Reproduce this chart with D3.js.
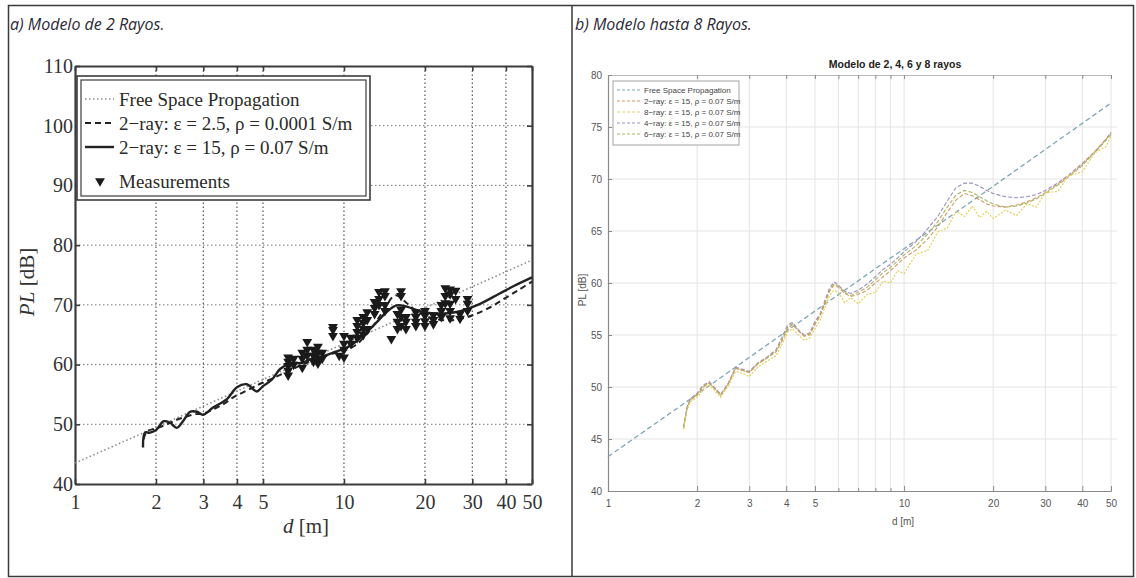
<!DOCTYPE html>
<html>
<head>
<meta charset="utf-8">
<script src="https://cdn.jsdelivr.net/npm/d3@7"></script>
<style>
  body { margin: 0; background: #fff; }
  .serif { font-family: "Liberation Serif", "DejaVu Serif", serif; }
  .narrow { font-family: "Liberation Sans Narrow", "Liberation Sans", Arial, sans-serif; }
  .cap { font-family: "Open Sans", "Noto Sans", sans-serif; font-style: italic; }
</style>
</head>
<body>
<svg id="chart" width="1136" height="578"></svg>
<script>
// ---- data ----
// panel a) 2-ray model vs measurements
const freeSpaceD = [1, 2, 5, 10, 20, 50]
const freeSpaceL = [43.5, 49.5, 57.5, 63.5, 69.5, 77.5]

const ray15D = [1.79, 1.82, 1.9, 2.01, 2.13, 2.25, 2.39, 2.52, 2.68, 2.84, 2.99, 3.26, 3.67, 4.0, 4.35, 4.74, 5.0, 5.4, 5.8, 6.3, 7.0, 7.6, 8.1, 9.1, 10.2, 11.2, 12.2, 13.3, 14.4, 15.7, 17.1, 19.6, 22.7, 26.2, 31.1, 37.9, 43, 50]
const ray15PL = [46.1, 48.6, 48.6, 49.1, 50.5, 50.3, 49.4, 50.5, 52.1, 52.1, 51.6, 52.8, 54.2, 56.2, 56.7, 55.5, 56.4, 57.5, 59.3, 60.2, 60.3, 61.0, 61.2, 62.0, 62.8, 64.0, 65.5, 67.2, 68.8, 69.9, 69.7, 68.8, 68.5, 68.8, 69.9, 71.9, 73.2, 74.6]

const ray25D = [1.8, 1.85, 2.0, 2.2, 2.4, 2.6, 2.8, 3.0, 3.3, 3.6, 3.9, 4.2, 4.6, 5.0, 5.5, 6.0, 6.5, 7.0, 7.5, 8, 9, 10, 11, 12, 13, 14, 15.5, 17, 18.5, 20, 22, 25, 28, 31, 35, 40, 45, 50]
const ray25PL = [47.5, 48.8, 49.3, 50.0, 50.8, 51.3, 51.7, 51.8, 52.6, 53.5, 54.6, 55.3, 56.2, 57.0, 57.8, 58.6, 59.3, 60.0, 60.5, 61.0, 61.8, 62.3, 63.2, 64.8, 66.8, 69.0, 71.6, 70.4, 69.0, 68.2, 67.6, 67.4, 67.8, 68.5, 69.6, 71.2, 72.6, 73.9]

const measD = [6.2, 6.2, 6.2, 6.2, 6.2, 6.5, 6.5, 7.0, 7.0, 7.0, 7.3, 7.3, 7.3, 7.7, 7.7, 7.7, 8.0, 8.0, 8.0, 8.0, 8.3, 8.3, 9.1, 9.1, 9.1, 9.6, 10.0, 10.0, 10.0, 10.0, 10.6, 10.6, 11.2, 11.2, 11.2, 11.2, 11.8, 11.8, 11.8, 11.8, 12.2, 12.2, 12.2, 13.0, 13.0, 13.0, 13.5, 13.5, 13.5, 14.2, 14.2, 14.2, 14.2, 15.0, 15.8, 15.8, 15.8, 16.3, 16.3, 16.3, 16.3, 16.3, 17.0, 17.0, 17.0, 18.5, 18.5, 18.5, 18.5, 20.0, 20.0, 20.0, 20.0, 21.5, 21.5, 21.5, 23.0, 23.0, 23.0, 23.8, 23.8, 23.8, 24.8, 24.8, 24.8, 24.8, 24.8, 26.0, 26.0, 27.0, 27.0, 28.8, 28.8, 28.8]
const measPL = [58.2, 59.0, 59.8, 60.5, 61.2, 60.0, 61.0, 59.5, 61.0, 62.0, 61.5, 62.5, 63.8, 60.5, 61.5, 62.5, 60.2, 61.0, 62.0, 63.0, 61.0, 62.0, 64.8, 65.8, 66.3, 61.5, 61.2, 62.5, 63.5, 64.8, 63.5, 64.5, 64.5, 65.5, 66.5, 67.5, 65.0, 66.0, 67.0, 68.0, 66.0, 67.5, 68.8, 68.5, 69.5, 70.5, 70.0, 71.0, 72.2, 69.0, 70.0, 71.5, 72.3, 64.3, 66.0, 67.2, 68.5, 66.5, 68.0, 69.2, 71.5, 72.3, 66.0, 67.2, 68.0, 66.5, 67.2, 68.0, 68.8, 66.5, 67.3, 68.2, 69.0, 66.8, 67.5, 68.3, 68.0, 69.0, 70.0, 70.3, 71.5, 72.8, 67.8, 69.0, 70.2, 71.8, 72.6, 71.0, 72.4, 67.7, 68.5, 69.0, 70.2, 71.0]

const xTicksL = [1, 2, 3, 4, 5, 10, 20, 30, 40, 50]
const yTicksL = [40, 50, 60, 70, 80, 90, 100, 110]
const legendL = ["Free Space Propagation", "2\u2212ray:  \u03b5 = 2.5,  \u03c1 = 0.0001 S/m", "2\u2212ray:  \u03b5 = 15,  \u03c1 = 0.07 S/m", "Measurements"]

// panel b) models up to 8 rays
const freeSpaceR = [43.3, 49.3, 57.3, 63.3, 69.3, 77.3]
const raysD = [1.8, 1.85, 1.9, 2.0, 2.1, 2.2, 2.3, 2.4, 2.55, 2.7, 2.85, 3.0, 3.2, 3.45, 3.7, 3.9, 4.05, 4.2, 4.4, 4.6, 4.8, 5.0, 5.2, 5.4, 5.6, 5.8, 6.0, 6.3, 6.6, 7.0, 7.5, 8.0, 8.5, 9.0, 9.5, 10, 11, 12, 13, 14, 15, 16, 17, 18, 19, 20, 22, 24, 26, 28, 30, 33, 36, 40, 44, 48, 50]
const ray2PL = [46.0, 48.0, 48.8, 49.2, 50.0, 50.4, 49.8, 49.2, 50.3, 51.8, 51.6, 51.4, 52.2, 52.8, 53.4, 54.6, 55.6, 56.0, 55.4, 54.9, 55.0, 56.0, 56.8, 58.0, 59.2, 59.8, 59.6, 59.0, 58.7, 58.9, 59.3, 60.0, 60.6, 61.2, 61.8, 62.4, 63.2, 64.2, 65.4, 66.8, 68.0, 68.6, 68.4, 68.0, 67.6, 67.4, 67.3, 67.5, 67.8, 68.2, 68.7, 69.5, 70.3, 71.4, 72.6, 73.8, 74.4]
const ray8PL = [46.0, 47.8, 48.6, 49.0, 49.8, 50.2, 49.6, 49.0, 50.1, 51.5, 51.3, 51.0, 51.9, 52.5, 53.0, 54.3, 55.3, 55.6, 55.0, 54.5, 54.7, 55.6, 56.4, 57.6, 58.8, 59.3, 59.1, 58.1, 58.6, 58.0, 58.9, 59.1, 60.2, 60.0, 61.2, 60.9, 62.8, 63.1, 64.9, 65.3, 66.9, 66.4, 67.4, 66.3, 66.9, 66.2, 67.0, 66.5, 67.6, 67.3, 68.7, 68.8, 70.3, 70.7, 72.5, 73.1, 74.1]
const ray4PL = [46.2, 48.1, 48.9, 49.4, 50.2, 50.5, 49.9, 49.3, 50.4, 51.9, 51.7, 51.5, 52.3, 52.9, 53.6, 55.0, 56.0, 56.2, 55.5, 55.0, 55.2, 56.3, 57.0, 58.3, 59.5, 60.1, 59.8, 59.2, 59.0, 59.3, 59.9, 60.6, 61.3, 61.8, 62.4, 63.0, 64.0, 65.2, 66.4, 67.9, 69.2, 69.6, 69.6, 69.3, 68.9, 68.6, 68.3, 68.2, 68.3, 68.5, 68.9, 69.6, 70.4, 71.5, 72.6, 73.8, 74.5]
const ray6PL = [46.1, 48.0, 48.7, 49.3, 50.1, 50.4, 49.8, 49.2, 50.3, 51.8, 51.6, 51.4, 52.2, 52.8, 53.5, 54.8, 55.8, 56.1, 55.4, 54.9, 55.1, 56.1, 56.9, 58.1, 59.3, 59.9, 59.7, 59.1, 58.8, 59.1, 59.6, 60.3, 61.0, 61.5, 62.1, 62.7, 63.6, 64.7, 65.9, 67.3, 68.5, 68.9, 68.7, 68.3, 67.9, 67.6, 67.3, 67.4, 67.7, 68.1, 68.6, 69.4, 70.2, 71.3, 72.5, 73.7, 74.3]

const xTicksR = [1, 2, 3, 4, 5, 10, 20, 30, 40, 50]
const xMinorR = [6, 7, 8, 9]
const yTicksR = [40, 45, 50, 55, 60, 65, 70, 75, 80]
const legendR = ["Free Space Propagation", "2\u2212ray: \u03b5 = 15, \u03c1 = 0.07 S/m", "8\u2212ray: \u03b5 = 15, \u03c1 = 0.07 S/m", "4\u2212ray: \u03b5 = 15, \u03c1 = 0.07 S/m", "6\u2212ray: \u03b5 = 15, \u03c1 = 0.07 S/m"]

let svg = d3.select("#chart")

// table frame and captions
svg.append("rect").attr("x", 8.5).attr("y", 5.5).attr("width", 1125).attr("height", 571)
    .attr("fill", "none").attr("stroke", "#3a3a3a").attr("stroke-width", 1.5)
svg.append("line").attr("x1", 572).attr("x2", 572).attr("y1", 5).attr("y2", 577)
    .attr("stroke", "#3a3a3a").attr("stroke-width", 1.5)
svg.append("text").attr("class", "cap").attr("x", 10).attr("y", 30).attr("font-size", 16)
    .attr("fill", "#2b2b38").text("a) Modelo de 2 Rayos.")
svg.append("text").attr("class", "cap").attr("x", 575).attr("y", 30).attr("font-size", 16)
    .attr("fill", "#2b2b38").text("b) Modelo hasta 8 Rayos.")

// ================= panel a =================
let xL = d3.scaleLog().domain([1, 50]).range([75, 532])
let yL = d3.scaleLinear().domain([40, 110]).range([484, 66])
let gL = svg.append("g")

// dotted grid
gL.selectAll(".vgrid").data(xTicksL.filter(d => d > 1 && d < 50)).enter().append("line")
    .attr("x1", d => xL(d)).attr("x2", d => xL(d)).attr("y1", yL(40)).attr("y2", yL(110))
    .attr("stroke", "#555").attr("stroke-width", 1.2).attr("stroke-dasharray", "1.5,2.5")
gL.selectAll(".hgrid").data(yTicksL.filter(d => d > 40 && d < 110)).enter().append("line")
    .attr("x1", xL(1)).attr("x2", xL(50)).attr("y1", d => yL(d)).attr("y2", d => yL(d))
    .attr("stroke", "#777").attr("stroke-width", 1).attr("stroke-dasharray", "1.5,2.5")

// axes with inward ticks on all sides
let axB = gL.append("g").attr("transform", "translate(0," + yL(40) + ")")
    .call(d3.axisBottom(xL).tickValues(xTicksL).tickFormat(d3.format("d")).tickSizeInner(-5).tickSizeOuter(0).tickPadding(10))
let axT = gL.append("g").attr("transform", "translate(0," + yL(110) + ")")
    .call(d3.axisTop(xL).tickValues(xTicksL).tickFormat("").tickSizeInner(-5).tickSizeOuter(0))
let axLft = gL.append("g").attr("transform", "translate(" + xL(1) + ",0)")
    .call(d3.axisLeft(yL).tickValues(yTicksL).tickSizeInner(-5).tickSizeOuter(0).tickPadding(4))
let axRt = gL.append("g").attr("transform", "translate(" + xL(50) + ",0)")
    .call(d3.axisRight(yL).tickValues(yTicksL).tickFormat("").tickSizeInner(-5).tickSizeOuter(0))
;[axB, axT, axLft, axRt].forEach(a => {
    a.select(".domain").attr("stroke", "#3c3c3c").attr("stroke-width", 2.2)
    a.selectAll(".tick line").attr("stroke", "#3c3c3c").attr("stroke-width", 1.6)
    a.selectAll("text").attr("class", "serif").attr("font-size", 20).attr("fill", "#333")
})
axB.selectAll("text").attr("dy", "0.75em")
axLft.selectAll("text").attr("dx", "2")

// model curves
let lineL = d3.line().x(d => xL(d[0])).y(d => yL(d[1])).curve(d3.curveCatmullRom)
gL.append("path").datum(d3.zip(freeSpaceD, freeSpaceL))
    .attr("d", d3.line().x(d => xL(d[0])).y(d => yL(d[1])))
    .attr("fill", "none").attr("stroke", "#8c8c8c").attr("stroke-width", 1.6).attr("stroke-dasharray", "1.5,2.5")
gL.append("path").datum(d3.zip(ray25D, ray25PL)).attr("d", lineL)
    .attr("fill", "none").attr("stroke", "#222").attr("stroke-width", 2).attr("stroke-dasharray", "6,4")
gL.append("path").datum(d3.zip(ray15D, ray15PL)).attr("d", lineL)
    .attr("fill", "none").attr("stroke", "#222").attr("stroke-width", 2.4)

// measurements
let tri = d3.symbol().type(d3.symbolTriangle).size(42)
gL.selectAll(".meas").data(d3.zip(measD, measPL)).enter().append("path")
    .attr("d", tri)
    .attr("transform", d => "translate(" + xL(d[0]) + "," + yL(d[1]) + ") rotate(180)")
    .attr("fill", "#1a1a1a")

// labels
gL.append("text").attr("class", "serif").attr("x", 306).attr("y", 533).attr("text-anchor", "middle")
    .attr("font-size", 21).attr("fill", "#333")
    .html('<tspan font-style="italic">d</tspan> [m]')
gL.append("text").attr("class", "serif").attr("transform", "translate(34,282) rotate(-90)")
    .attr("text-anchor", "middle").attr("font-size", 21).attr("fill", "#333")
    .html('<tspan font-style="italic">PL</tspan> [dB]')

// legend (double frame)
gL.append("rect").attr("x", 77).attr("y", 76).attr("width", 293).attr("height", 124)
    .attr("fill", "#fff").attr("stroke", "#3c3c3c").attr("stroke-width", 1.6)
gL.append("rect").attr("x", 81).attr("y", 80).attr("width", 285).attr("height", 116)
    .attr("fill", "none").attr("stroke", "#3c3c3c").attr("stroke-width", 1.2)
let legY = [99, 123, 147, 181]
let legStyle = [
    {stroke: "#8c8c8c", w: 1.6, dash: "1.5,2.5"},
    {stroke: "#222", w: 2, dash: "6,4"},
    {stroke: "#222", w: 2.4, dash: null}
]
legStyle.forEach((s, i) => {
    gL.append("line").attr("x1", 85).attr("x2", 114).attr("y1", legY[i]).attr("y2", legY[i])
        .attr("stroke", s.stroke).attr("stroke-width", s.w).attr("stroke-dasharray", s.dash)
})
gL.append("path").attr("d", tri).attr("transform", "translate(100," + legY[3] + ") rotate(180)").attr("fill", "#1a1a1a")
gL.selectAll(".legtext").data(legendL).enter().append("text").attr("class", "serif")
    .attr("x", 119).attr("y", (d, i) => legY[i]).attr("dy", "0.35em")
    .attr("font-size", 19).attr("fill", "#2a2a2a").text(d => d)

// ================= panel b =================
let xR = d3.scaleLog().domain([1, 50]).range([608, 1111])
let yR = d3.scaleLinear().domain([40, 80]).range([491, 75])
let gR = svg.append("g")

let gridX = [1, 2, 3, 4, 5, 6, 7, 8, 9, 10, 20, 30, 40, 50]
gR.selectAll(".vgrid").data(gridX.filter(d => d > 1)).enter().append("line")
    .attr("x1", d => xR(d)).attr("x2", d => xR(d)).attr("y1", yR(40)).attr("y2", yR(80))
    .attr("stroke", "#e4e4e4").attr("stroke-width", 1)
gR.selectAll(".hgrid").data(yTicksR.filter(d => d > 40 && d < 80)).enter().append("line")
    .attr("x1", xR(1)).attr("x2", xR(50) + 6).attr("y1", d => yR(d)).attr("y2", d => yR(d))
    .attr("stroke", "#e4e4e4").attr("stroke-width", 1)

let rB = gR.append("g").attr("transform", "translate(0," + yR(40) + ")")
    .call(d3.axisBottom(xR).tickValues(xTicksR).tickFormat(d3.format("d")).tickSizeInner(-5).tickSizeOuter(0).tickPadding(9))
let rBm = gR.append("g").attr("transform", "translate(0," + yR(40) + ")")
    .call(d3.axisBottom(xR).tickValues(xMinorR).tickFormat("").tickSizeInner(-3).tickSizeOuter(0))
let rT = gR.append("g").attr("transform", "translate(0," + yR(80) + ")")
    .call(d3.axisTop(xR).tickValues(xTicksR.concat(xMinorR)).tickFormat("").tickSizeInner(-4).tickSizeOuter(0))
let rL = gR.append("g").attr("transform", "translate(" + xR(1) + ",0)")
    .call(d3.axisLeft(yR).tickValues(yTicksR).tickSizeInner(-4).tickSizeOuter(0).tickPadding(6))
;[rB, rBm, rT, rL].forEach(a => {
    a.select(".domain").attr("stroke", "#8a8a8a").attr("stroke-width", 1.2)
    a.selectAll(".tick line").attr("stroke", "#8a8a8a")
    a.selectAll("text").attr("class", "narrow").attr("font-size", 10).attr("fill", "#555")
})
rT.select(".domain").attr("stroke", "#bbb")

// title and labels
gR.append("text").attr("class", "narrow").attr("x", 895).attr("y", 68).attr("text-anchor", "middle")
    .attr("font-size", 10.5).attr("font-weight", "bold").attr("fill", "#222").text("Modelo de 2, 4, 6 y 8 rayos")
gR.append("text").attr("class", "narrow").attr("x", 903).attr("y", 525).attr("text-anchor", "middle")
    .attr("font-size", 10).attr("fill", "#555").text("d [m]")
gR.append("text").attr("class", "narrow").attr("transform", "translate(586,290) rotate(-90)")
    .attr("text-anchor", "middle").attr("font-size", 10).attr("fill", "#555").text("PL [dB]")

// series
let series = [
    {name: legendR[0], d: freeSpaceD, v: freeSpaceR, color: "#7fa6b4", dash: "5,3", w: 1.3},
    {name: legendR[1], d: raysD, v: ray2PL, color: "#cf9a62", dash: "4,2", w: 1.1},
    {name: legendR[2], d: raysD, v: ray8PL, color: "#e2d25c", dash: "2,1.5", w: 1.2},
    {name: legendR[3], d: raysD, v: ray4PL, color: "#9d8dc2", dash: "4,2", w: 1.1},
    {name: legendR[4], d: raysD, v: ray6PL, color: "#aab462", dash: "4,2", w: 1.1}
]
// draw the free space line first, then 4, 6, 2 and 8 rays on top
;[0, 3, 4, 1, 2].forEach(i => {
    let s = series[i]
    gR.append("path").datum(d3.zip(s.d, s.v))
        .attr("d", d3.line().x(d => xR(d[0])).y(d => yR(d[1])))
        .attr("fill", "none").attr("stroke", s.color).attr("stroke-width", s.w)
        .attr("stroke-dasharray", s.dash)
})

// legend
gR.append("rect").attr("x", 613).attr("y", 81).attr("width", 126).attr("height", 64)
    .attr("fill", "#fff").attr("stroke", "#9a9a9a").attr("stroke-width", 0.9)
let legYR = [90, 101, 112, 123, 134]
series.forEach((s, i) => {
    gR.append("line").attr("x1", 617).attr("x2", 640).attr("y1", legYR[i]).attr("y2", legYR[i])
        .attr("stroke", s.color).attr("stroke-width", 1.2).attr("stroke-dasharray", "3,2")
    gR.append("text").attr("class", "narrow").attr("x", 644).attr("y", legYR[i]).attr("dy", "0.35em")
        .attr("font-size", 8).attr("fill", "#444").text(s.name)
})
</script>
</body>
</html>
